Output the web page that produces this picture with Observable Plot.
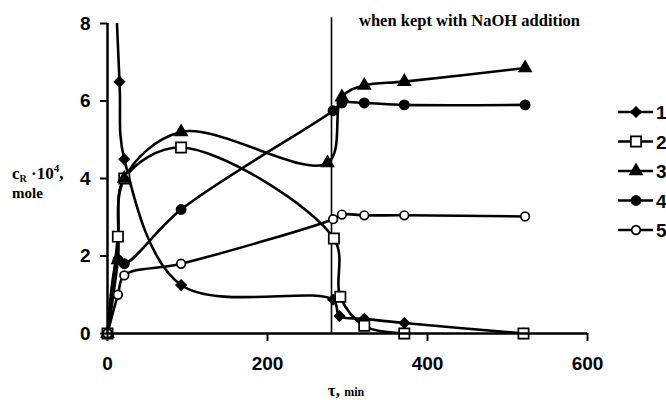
<!DOCTYPE html>
<html><head><meta charset="utf-8">
<script src="https://cdn.jsdelivr.net/npm/d3@7"></script>
<script src="https://cdn.jsdelivr.net/npm/@observablehq/plot@0.6"></script>
<style>body{margin:0;background:#fff}#chart{width:666px;height:400px}</style>
</head><body><div id="chart"></div>
<script>
// data (tau in min, c_R·10^4 in mole)
const seriesNames = ["1", "2", "3", "4", "5"];
const tau1 = [0, 15, 21, 92, 282, 290, 321, 371, 520];
const c1   = [14, 6.5, 4.5, 1.25, 0.87, 0.45, 0.38, 0.27, 0.0];
const tau2 = [0, 13, 21, 92, 283, 291, 321, 371, 520];
const c2   = [0, 2.5, 4.0, 4.8, 2.45, 0.95, 0.2, 0.0, 0.0];
const tau3 = [0, 13, 21, 92, 275, 293, 321, 371, 522];
const c3   = [0, 1.9, 4.0, 5.2, 4.4, 6.1, 6.4, 6.5, 6.85];
const tau4 = [0, 13, 21, 92, 282, 293, 321, 371, 522];
const c4   = [0, 1.9, 1.8, 3.2, 5.75, 5.95, 5.95, 5.9, 5.9];
const tau5 = [0, 13, 21, 92, 282, 293, 321, 371, 522];
const c5   = [0, 1.0, 1.5, 1.8, 2.95, 3.07, 3.05, 3.05, 3.02];
const naohTau = [280];
const xTicks = [0, 200, 400, 600];
const yTicks = [0, 2, 4, 6, 8];
const annotation = "when kept with NaOH addition";

const taus = [tau1, tau2, tau3, tau4, tau5];
const cs = [c1, c2, c3, c4, c5];
const symbols = ["diamond2", "square", "triangle", "circle", "circle"];
const fills = ["black", "white", "black", "black", "white"];
const radii = [4.4, 5.8, 4.4, 4.6, 4.3];

const rows = [];
seriesNames.forEach((s, k) => taus[k].forEach((t, i) => rows.push({s, k, tau: t, c: cs[k][i]})));

const marks = [
  Plot.line(rows, {x: "tau", y: "c", z: "s", curve: "catmull-rom", stroke: "black", strokeWidth: 2.6, clip: true}),
  Plot.ruleX(naohTau, {y1: 0, y2: 8.15, stroke: "black", strokeWidth: 1.6}),
];
seriesNames.forEach((s, k) => {
  marks.push(Plot.dot(rows.filter(d => d.k === k && d.c <= 8), {
    x: "tau", y: "c", symbol: symbols[k], r: radii[k], fill: fills[k], stroke: "black", strokeWidth: 1.7
  }));
});
marks.push(
  Plot.ruleX([0], {stroke: "black", strokeWidth: 2.5}),
  Plot.ruleY([0], {stroke: "black", strokeWidth: 2.5}),
  Plot.axisX({ticks: xTicks, tickSize: 8, tickPadding: 15, strokeWidth: 2, label: null, fontSize: 19, fontWeight: "bold"}),
  Plot.axisY({ticks: yTicks, tickSize: 7, tickPadding: 10, strokeWidth: 2, label: null, fontSize: 19, fontWeight: "bold"})
);

const chart = Plot.plot({
  width: 666, height: 400,
  marginLeft: 107, marginRight: 79, marginTop: 23, marginBottom: 67,
  style: {fontFamily: "Liberation Sans, Arial, sans-serif", fontSize: "19px", fontWeight: "bold", color: "black", background: "white"},
  x: {domain: [0, 600]},
  y: {domain: [0, 8]},
  marks
});

const svg = d3.select(chart);
const serif = "Liberation Serif, Times New Roman, serif";
// annotation
svg.append("text").attr("x", 580).attr("y", 26).attr("text-anchor", "end").attr("font-family", serif)
  .attr("font-weight", "bold").attr("font-size", 16.5).attr("fill", "black").text(annotation);
// y axis title
const yt = svg.append("text").attr("x", 12).attr("y", 179).attr("text-anchor", "start").attr("font-family", serif).attr("font-weight", "bold").attr("font-size", 17).attr("fill", "black");
yt.append("tspan").text("c");
yt.append("tspan").attr("font-size", 10).attr("dy", 3).text("R");
yt.append("tspan").attr("dy", -3).text(" ·10");
yt.append("tspan").attr("font-size", 11).attr("dy", -7).text("4");
yt.append("tspan").attr("dy", 7).text(",");
svg.append("text").attr("x", 12).attr("y", 198).attr("text-anchor", "start").attr("font-family", serif).attr("font-weight", "bold").attr("font-size", 15).attr("fill", "black").text("mole");
// x axis title
const xt = svg.append("text").attr("x", 346).attr("y", 396).attr("text-anchor", "middle").attr("font-family", serif).attr("font-weight", "bold").attr("font-size", 17).attr("fill", "black");
xt.append("tspan").text("τ, ");
xt.append("tspan").attr("font-size", 12).text("min");
// legend
const lg = svg.append("g");
const symMap = {diamond2: d3.symbolDiamond2, square: d3.symbolSquare, triangle: d3.symbolTriangle, circle: d3.symbolCircle};
seriesNames.forEach((s, k) => {
  const y = 112 + k * 29.5;
  lg.append("line").attr("x1", 618).attr("x2", 653).attr("y1", y).attr("y2", y).attr("stroke", "black").attr("stroke-width", 2.6);
  lg.append("path").attr("transform", `translate(636,${y})`).attr("d", d3.symbol(symMap[symbols[k]], Math.PI * radii[k] * radii[k])())
    .attr("fill", fills[k]).attr("stroke", "black").attr("stroke-width", 1.7);
  lg.append("text").attr("x", 656).attr("y", y + 7).attr("text-anchor", "start").attr("font-size", 19).attr("font-weight", "bold").attr("fill", "black").text(s);
});
document.getElementById("chart").appendChild(chart);
</script>
</body></html>
